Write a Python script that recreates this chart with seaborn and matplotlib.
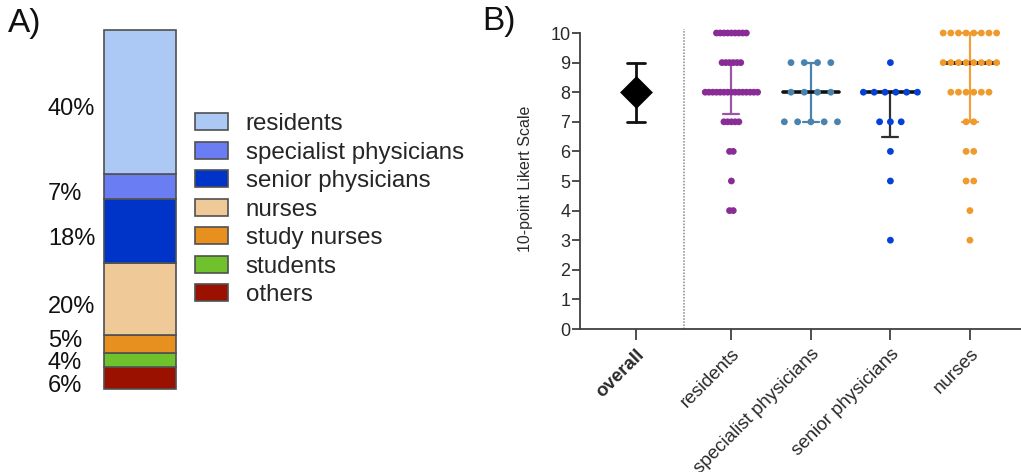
import numpy as np
import pandas as pd
import matplotlib
matplotlib.use("Agg")
import matplotlib.pyplot as plt
from matplotlib.patches import Patch
import seaborn as sns

# panel A: composition of respondents (%)
roles = ["residents", "specialist physicians", "senior physicians", "nurses",
         "study nurses", "students", "others"]
role_pct = [40, 7, 18, 20, 5, 4, 6]
role_colors = ["#abc9f4", "#6a7df2", "#0033c8", "#f0c998", "#e8901f", "#70c22c", "#9b1100"]

# panel B: 10-point Likert answers, counts per score
scores = [3, 4, 5, 6, 7, 8, 9, 10]
groups = ["residents", "specialist physicians", "senior physicians", "nurses"]
counts_residents = [0, 2, 1, 2, 5, 15, 6, 9]
counts_specialist = [0, 0, 0, 0, 5, 4, 4, 0]
counts_senior = [1, 0, 1, 1, 3, 6, 1, 0]
counts_nurses = [1, 1, 2, 2, 2, 6, 8, 8]
group_colors = ["#8a2c96", "#4a83ad", "#0540d8", "#ef9a2a"]
whisker_colors = ["#9a55a6", "#4a83ad", "#303030", "#f0a040"]
median_colors = ["#8a2c96", "#111111", "#111111", "#111111"]

sns.set_style("white")
plt.rcParams["font.family"] = ["Liberation Sans", "DejaVu Sans"]
txt = "#2a2a2a"

fig = plt.figure(figsize=(10.21, 4.72), dpi=100)

# ---------------- panel A ----------------
axA = fig.add_axes([104/1021, 83/472, 72/1021, 359/472])
bottom = 0
label_y = []
for name, pct, col in reversed(list(zip(roles, role_pct, role_colors))):
    axA.bar(0, pct, bottom=bottom, width=1, color=col, edgecolor="#505050",
            linewidth=1.2, clip_on=False)
    # label a bit below the middle, pushed apart where segments are thin
    y = bottom + pct/2 - 1.4
    if label_y:
        y = max(y, label_y[-1] + 6.2)
    label_y.append(y)
    axA.text(-0.78, y, f"{pct}%", transform=axA.get_yaxis_transform(),
             ha="left", va="center_baseline", fontsize=17, color="#111111")
    bottom += pct
axA.set_xlim(-0.5, 0.5)
axA.set_ylim(0, 100)
axA.axis("off")

handles = [Patch(facecolor=c, edgecolor="#505050", linewidth=1.2) for c in role_colors]
fig.legend(handles, roles, loc="upper left", bbox_to_anchor=(195/1021, 1-113/472),
           frameon=False, fontsize=17.4, handlelength=1.38, handleheight=0.7,
           handletextpad=0.72, labelspacing=0.27, borderpad=0, borderaxespad=0)
fig.text(8/1021, 1-8/472, "A)", fontsize=24, va="top", ha="left", color="#111111")
fig.text(482/1021, 1-6/472, "B)", fontsize=24, va="top", ha="left", color="#111111")

# ---------------- panel B ----------------
px_unit = 79.5
axB = fig.add_axes([580/1021, 143/472, 441/1021, 10.15*29.6/472])
xpos = [1.2, 2.2, 3.2, 4.2]
spacing = [0.047, 0.167, 0.136, 0.096]
all_counts = [counts_residents, counts_specialist, counts_senior, counts_nurses]

rows = []
for g, cnts, x0, sp in zip(groups, all_counts, xpos, spacing):
    for s, n in zip(scores, cnts):
        for k in range(n):
            rows.append({"group": g, "x": x0 + (k - (n - 1)/2) * sp, "score": s})
dots = pd.DataFrame(rows)

# whiskers (median + IQR) and median lines, then the dots on top
for g, cnts, x0, wc, mc in zip(groups, all_counts, xpos, whisker_colors, median_colors):
    vals = np.repeat(scores, cnts)
    q1, med, q3 = np.percentile(vals, [25, 50, 75], method="weibull")
    axB.plot([x0, x0], [q1, q3], color=wc, lw=1.6, zorder=2)
    axB.plot([x0-0.1, x0+0.1], [q1, q1], color=wc, lw=1.6, zorder=2)
    axB.plot([x0-0.1, x0+0.1], [q3, q3], color=wc, lw=1.6, zorder=2)
    axB.plot([x0-0.35, x0+0.35], [med, med], color=mc, lw=2.6, zorder=2)

sns.scatterplot(data=dots, x="x", y="score", hue="group", palette=group_colors,
                hue_order=groups, s=24, linewidth=0, legend=False, ax=axB, zorder=3)

# overall: median with IQR
overall = np.repeat(scores, np.sum(all_counts, axis=0))
oq1, omed, oq3 = np.percentile(overall, [25, 50, 75], method="weibull")
axB.plot([0, 0], [oq1, oq3], color="#111111", lw=2, zorder=2)
axB.plot([-0.11, 0.11], [oq1, oq1], color="#111111", lw=2, zorder=2)
axB.plot([-0.11, 0.11], [oq3, oq3], color="#111111", lw=2, zorder=2)
sns.scatterplot(x=[0], y=[omed], marker="D", s=280, color="black", linewidth=0,
                ax=axB, zorder=3)

axB.axvline(0.6, color="#888888", lw=1.1, ls=(0, (1, 1)), zorder=1)

axB.set_xlim(-56/px_unit, 385/px_unit)
axB.set_ylim(0, 10.15)
axB.set_yticks(range(0, 11))
axB.set_xticks([0] + xpos)
axB.set_xticklabels(["overall"] + groups, rotation=45, ha="right",
                    rotation_mode="anchor", fontsize=13.5, color=txt)
axB.get_xticklabels()[0].set_fontweight("bold")
axB.tick_params(axis="y", labelsize=13, labelcolor=txt, length=6, width=1.3,
                color="#404040", direction="out", left=True, pad=1)
axB.tick_params(axis="x", length=8, width=1.3, color="#404040", direction="out",
                bottom=True, pad=4)
axB.set_xlabel("")
axB.set_ylabel("10-point Likert Scale", fontsize=11.5, color=txt, labelpad=12)
for side in ["top", "right"]:
    axB.spines[side].set_visible(False)
for side in ["left", "bottom"]:
    axB.spines[side].set_color("#404040")
    axB.spines[side].set_linewidth(1.3)
axB.spines["left"].set_bounds(0, 10)

fig.savefig("out.png", dpi=100)
